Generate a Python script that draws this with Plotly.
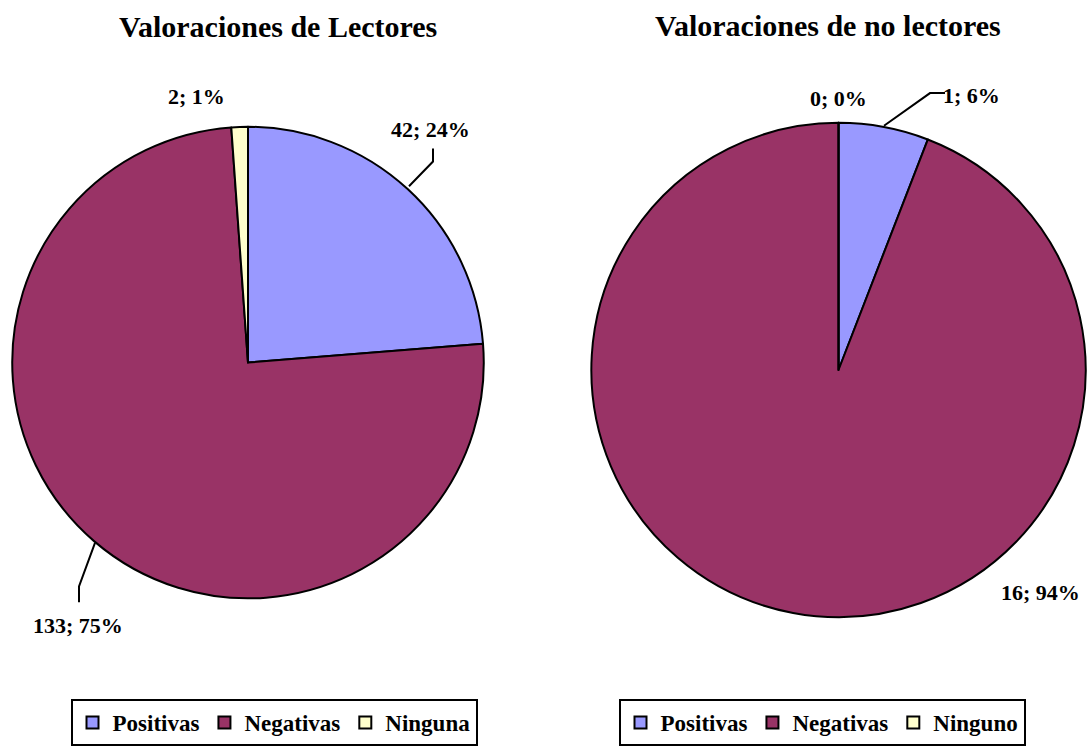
import plotly.graph_objects as go

# ---------------------------------------------------------
# Data
# ---------------------------------------------------------
labels_lect = ["Positivas", "Negativas", "Ninguna"]
values_lect = [42, 133, 2]

labels_nolect = ["Positivas", "Negativas", "Ninguno"]
values_nolect = [1, 16, 0]

colors = ["#9999FF", "#993366", "#FFFFCC"]

title_lect = "Valoraciones de Lectores"
title_nolect = "Valoraciones de no lectores"

W, H = 1089, 746
FONT = "Liberation Serif, Times New Roman, serif"


def px(x, y):
    # screen pixel -> paper coordinates
    return x / W, 1 - y / H


def label_text(values):
    total = sum(values)
    return [f"{v}; {round(100 * v / total)}%" for v in values]


# ---------------------------------------------------------
# Figure
# ---------------------------------------------------------
fig = go.Figure()

x0, y0 = px(10, 128)
x1, y1 = px(486, 604)
fig.add_trace(go.Pie(
    labels=labels_lect,
    values=values_lect,
    sort=False,
    direction="clockwise",
    rotation=0,
    marker=dict(colors=colors, line=dict(color="black", width=2)),
    textinfo="none",
    hoverinfo="label+value+percent",
    domain=dict(x=[x0, x1], y=[y1, y0]),
    legend="legend",
))

# pie legends are merged by label, so the second pie gets its own keys
x0, y0 = px(589, 124)
x1, y1 = px(1088, 623)
fig.add_trace(go.Pie(
    labels=[l + "\u200b" for l in labels_nolect],
    values=values_nolect,
    sort=False,
    direction="clockwise",
    rotation=0,
    marker=dict(colors=colors, line=dict(color="black", width=2)),
    textinfo="none",
    hoverinfo="label+value+percent",
    domain=dict(x=[x0, x1], y=[y1, y0]),
    legend="legend2",
))

# ---------------------------------------------------------
# Titles and data labels
# ---------------------------------------------------------
annotations = []
for text, (cx, cy) in [(title_lect, (278, 27)), (title_nolect, (828, 26))]:
    ax, ay = px(cx, cy)
    annotations.append(dict(
        x=ax, y=ay, xref="paper", yref="paper", text=f"<b>{text}</b>",
        xanchor="center", yanchor="middle",
        showarrow=False, font=dict(family=FONT, size=30, color="black"),
    ))

lab_pos_lect = [(430, 131), (78, 631), (196, 97)]
lab_pos_nolect = [(971, 96), (1040, 598), (838, 99)]
for texts, positions in [(label_text(values_lect), lab_pos_lect),
                         (label_text(values_nolect), lab_pos_nolect)]:
    for t, (cx, cy) in zip(texts, positions):
        ax, ay = px(cx, cy)
        annotations.append(dict(
            x=ax, y=ay, xref="paper", yref="paper", text=f"<b>{t}</b>",
            xanchor="center", yanchor="middle",
            showarrow=False, font=dict(family=FONT, size=22, color="black"),
        ))

# leader lines
leaders = [
    [(409, 188), (433, 163), (433, 150)],
    [(95, 548), (79, 592), (79, 608)],
    [(884, 127), (930, 94), (945, 94)],
]
shapes = []
for pts in leaders:
    path = "M " + " L ".join(f"{px(x, y)[0]},{px(x, y)[1]}" for x, y in pts)
    shapes.append(dict(type="path", xref="paper", yref="paper", path=path,
                       line=dict(color="black", width=2)))

legend_style = dict(
    orientation="h",
    bordercolor="black",
    borderwidth=2,
    bgcolor="white",
    font=dict(family=FONT, size=23, color="black", weight="bold"),
    xanchor="center",
    yanchor="top",
    itemwidth=30,
    tracegroupgap=0,
)

lx, ly = px(274, 706)
rx, ry = px(822, 706)
fig.update_layout(
    width=W,
    height=H,
    margin=dict(l=0, r=0, t=0, b=0),
    paper_bgcolor="white",
    plot_bgcolor="white",
    annotations=annotations,
    shapes=shapes,
    legend=dict(x=lx, y=ly, **legend_style),
    legend2=dict(x=rx, y=ry, **legend_style),
    font=dict(family=FONT, color="black"),
)

# drop the page's default body margin so the figure fills the window
fig.write_html("out.html",
               config={"displayModeBar": False},
               post_script="document.body.style.margin='0';"
                           "document.body.style.overflow='hidden';")
